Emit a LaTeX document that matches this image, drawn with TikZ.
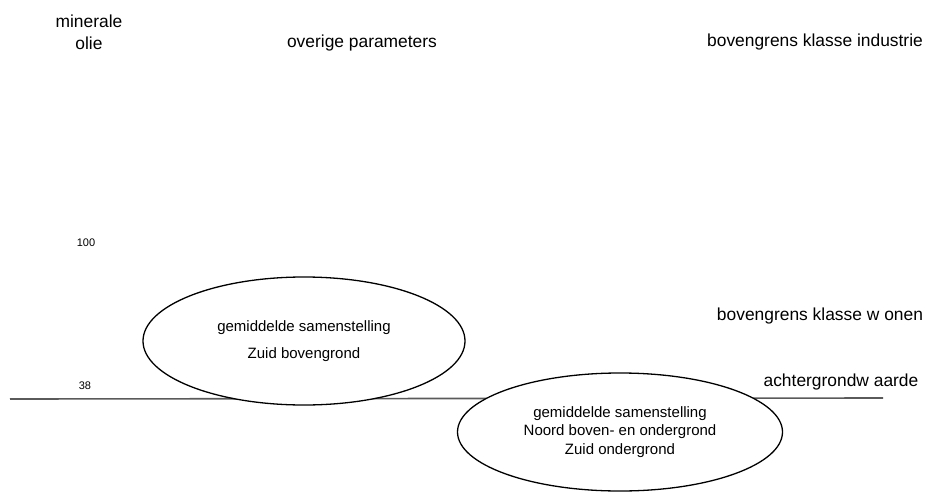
\documentclass[tikz,border=0pt]{standalone}
\usepackage{fontspec}
\setmainfont{Liberation Sans}
\usetikzlibrary{shapes.geometric}
\definecolor{lijngrijs}{RGB}{90,90,90}
\tikzset{
  tekst/.style={font=\fontsize{17.4}{20}\selectfont, inner sep=0pt},
  getal/.style={font=\fontsize{11}{13}\selectfont, inner sep=0pt},
  wolk/.style={draw, ellipse, fill=white, line width=1.3pt, inner sep=0pt,
    align=center, font=\fontsize{15}{18.5}\selectfont},
}

\begin{document}
\begin{tikzpicture}[x=1pt,y=-1pt]
\useasboundingbox (0,0) rectangle (927,493);
% achtergrondwaarde
\coordinate (lijnL) at (10,399);
\coordinate (lijnR) at (883,398);
\draw[lijngrijs, line width=1.6pt] (lijnL) -- (lijnR);
% ellipsen
\node[wolk, minimum width=322, minimum height=128] (zuidboven) at (304,341)
  {gemiddelde samenstelling\\[8.5pt]Zuid bovengrond};
\node[wolk, minimum width=325, minimum height=118] (noordzuid) at (620,432)
  {gemiddelde samenstelling\\Noord boven- en ondergrond\\Zuid ondergrond};
% kopjes
\node[tekst] (minerale) at (89,21) {minerale};
\node[tekst] (olie) at (89,43) {olie};
\node[tekst] (overige) at (362,43) {overige parameters};
\node[tekst] (industrie) at (815,42) {bovengrens klasse industrie};
\node[tekst] (wonen) at (820,316) {bovengrens klasse w onen};
\node[tekst] (achtergrond) at (841,382) {achtergrondw aarde};
% waarden
\node[getal] (honderd) at (86,243) {100};
\node[getal] (achtendertig) at (85,386) {38};
\end{tikzpicture}
\end{document}
